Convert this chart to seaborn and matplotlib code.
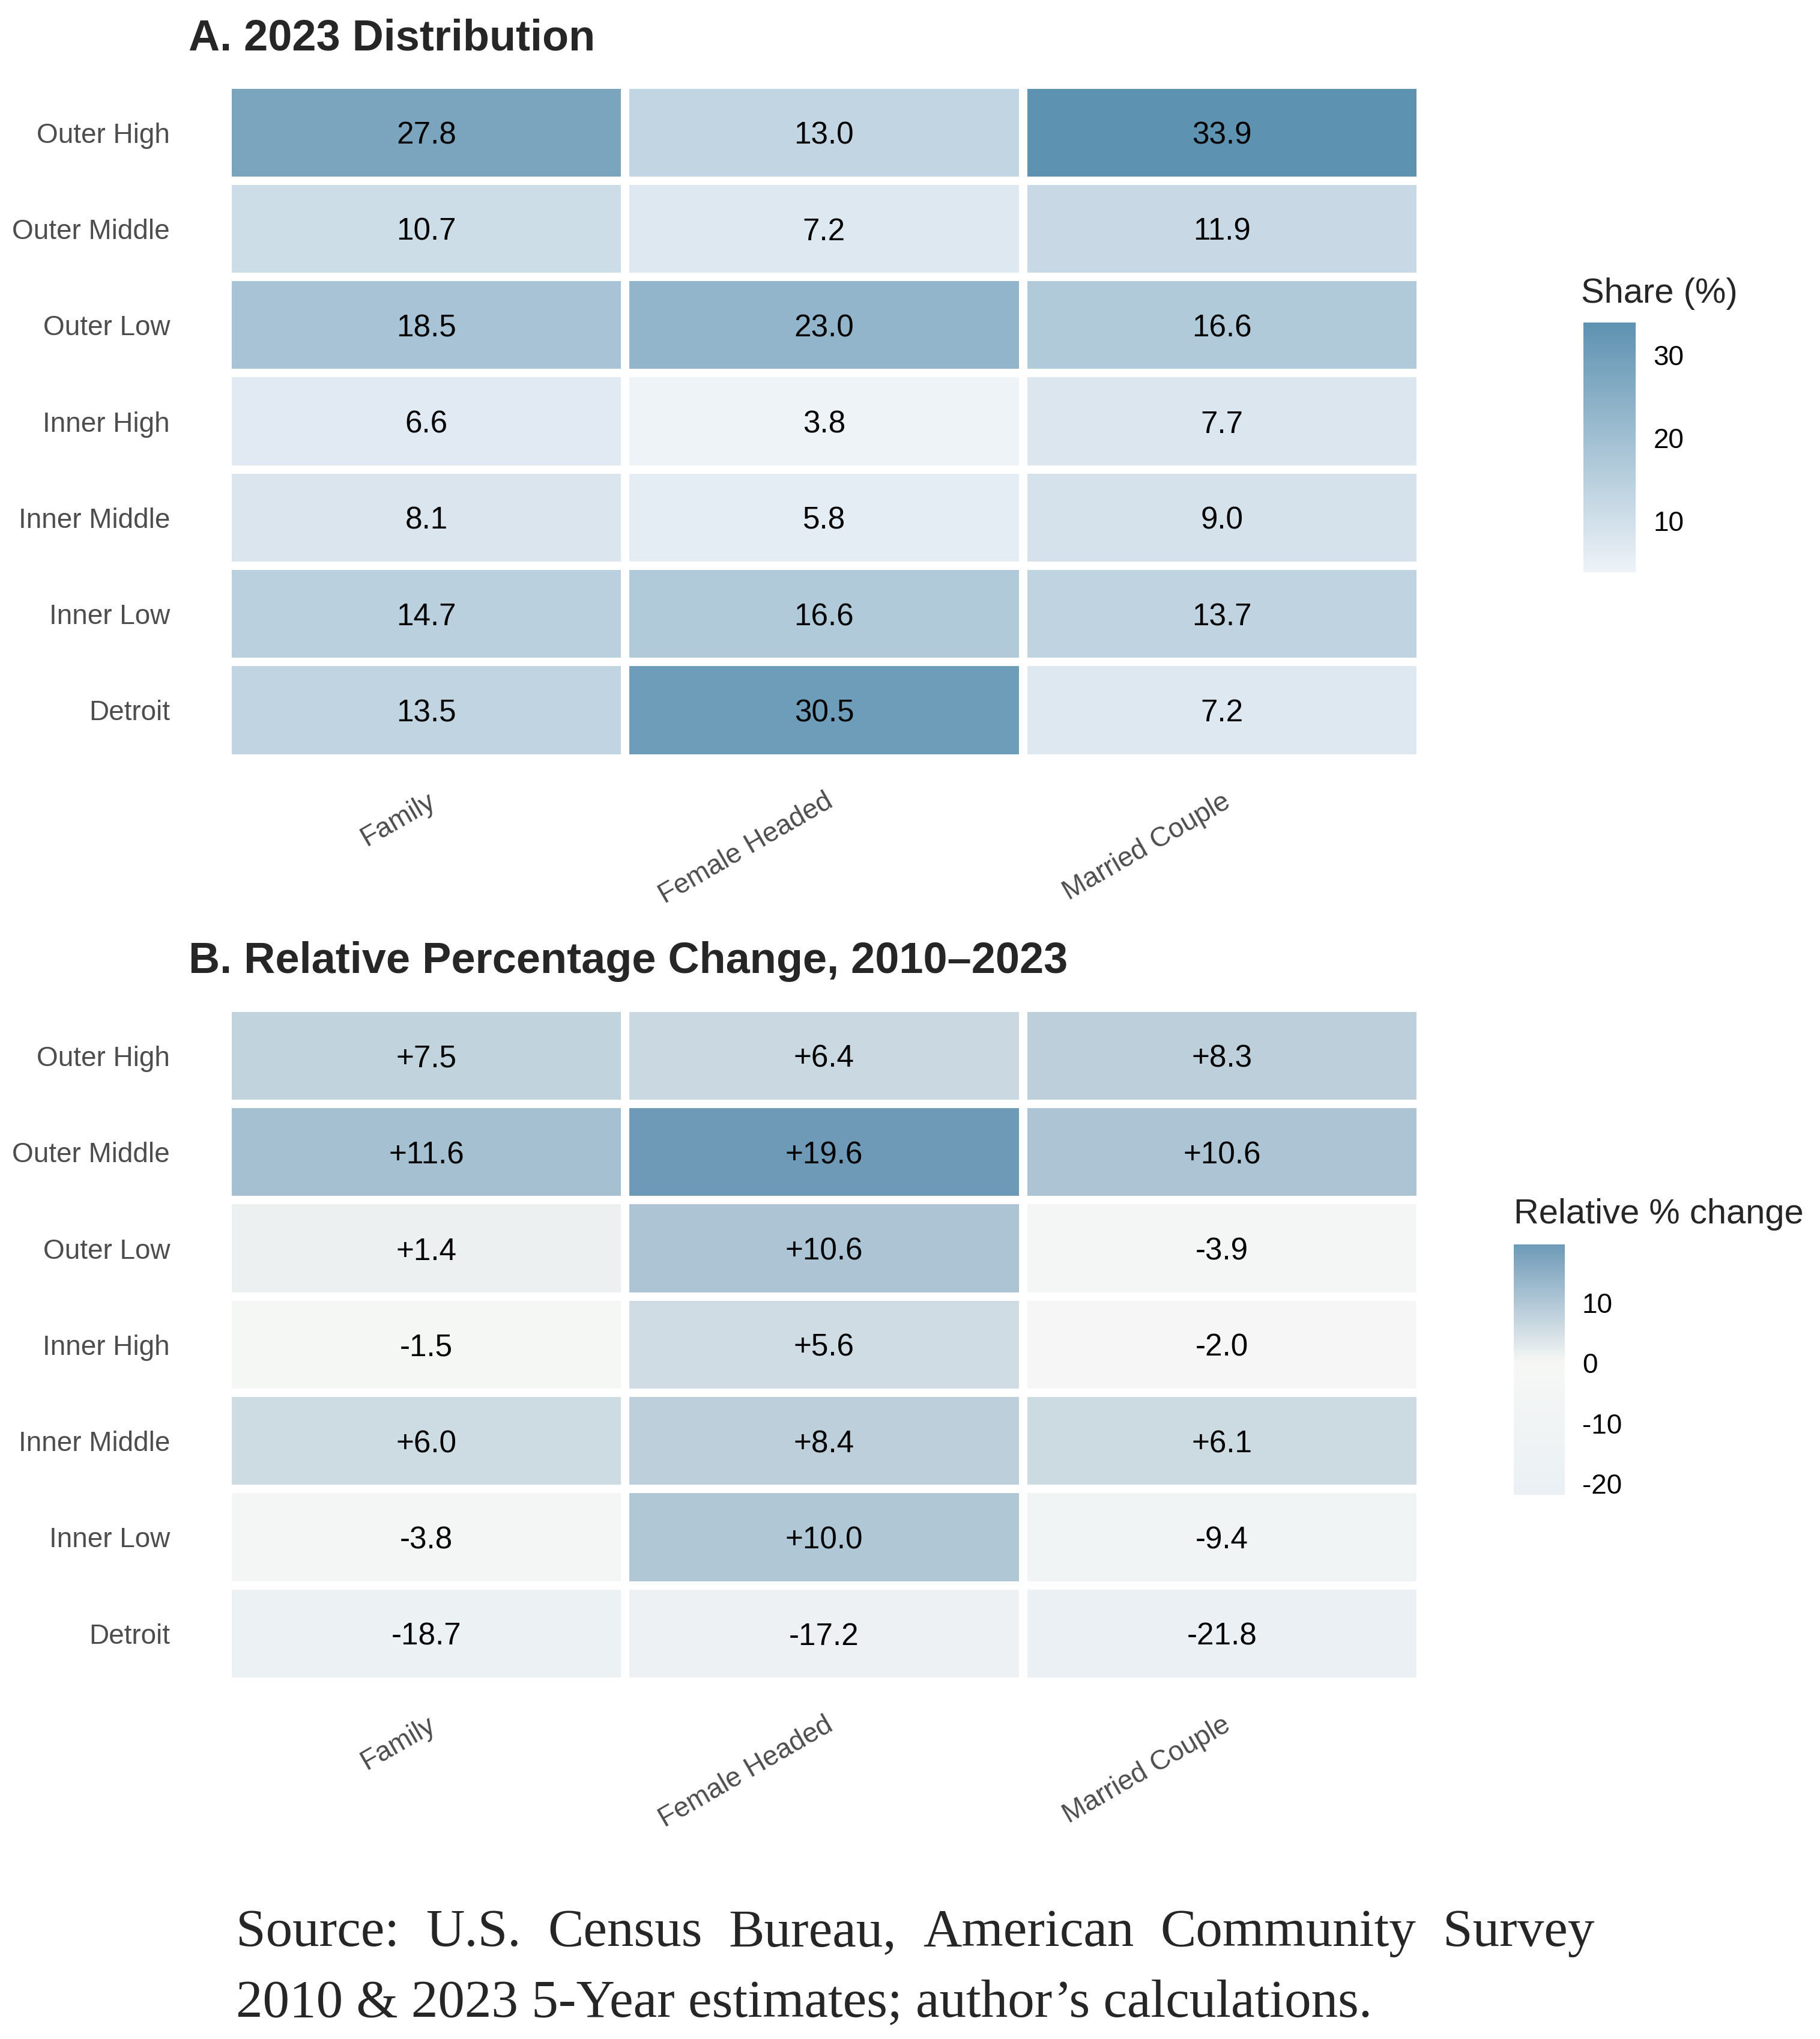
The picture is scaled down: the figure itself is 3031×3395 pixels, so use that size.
import numpy as np
import pandas as pd
import matplotlib
matplotlib.use("Agg")
import matplotlib.pyplot as plt
import seaborn as sns
from matplotlib.colors import LinearSegmentedColormap

sns.set_theme(style="white")
plt.rcParams["font.family"] = ["Liberation Sans", "DejaVu Sans"]
plt.rcParams["axes.unicode_minus"] = False

# data
regions = ["Outer High", "Outer Middle", "Outer Low", "Inner High",
           "Inner Middle", "Inner Low", "Detroit"]
household_types = ["Family", "Female Headed", "Married Couple"]

share_family = [27.8, 10.7, 18.5, 6.6, 8.1, 14.7, 13.5]
share_female = [13.0, 7.2, 23.0, 3.8, 5.8, 16.6, 30.5]
share_married = [33.9, 11.9, 16.6, 7.7, 9.0, 13.7, 7.2]

change_family = [7.5, 11.6, 1.4, -1.5, 6.0, -3.8, -18.7]
change_female = [6.4, 19.6, 10.6, 5.6, 8.4, 10.0, -17.2]
change_married = [8.3, 10.6, -3.9, -2.0, 6.1, -9.4, -21.8]

source_line1 = "Source: U.S. Census Bureau, American Community Survey"
source_line2 = "2010 & 2023 5-Year estimates; author\u2019s calculations."

share = pd.DataFrame({"Family": share_family, "Female Headed": share_female,
                      "Married Couple": share_married}, index=regions)
change = pd.DataFrame({"Family": change_family, "Female Headed": change_female,
                       "Married Couple": change_married}, index=regions)

# colour scales
cmap_share = LinearSegmentedColormap.from_list("share", ["#eef3f8", "#5e92b1"])
lo, hi = change.values.min(), change.values.max()
mid_pos = (0 - lo) / (hi - lo)
cmap_change = LinearSegmentedColormap.from_list(
    "change", [(0, "#eaf0f4"), (mid_pos, "#f6f7f5"), (1, "#6e9ab8")])

fig = plt.figure(figsize=(3031 / 300, 3395 / 300), dpi=300)
ax_a = fig.add_axes([0.1250, 0.6281, 0.6556, 0.3305])
cax_a = fig.add_axes([0.8700, 0.7193, 0.0288, 0.1225])
ax_b = fig.add_axes([0.1250, 0.1753, 0.6556, 0.3305])
cax_b = fig.add_axes([0.8317, 0.2670, 0.0280, 0.1227])

annot_kw = dict(fontsize=12.3, color="black", va="center_baseline")

sns.heatmap(share, ax=ax_a, cmap=cmap_share, cbar_ax=cax_a,
            vmin=share.values.min(), vmax=share.values.max(),
            annot=share.map(lambda v: f"{v:.1f}").values, fmt="",
            annot_kws=annot_kw, linewidths=2.9, linecolor="white")

sns.heatmap(change, ax=ax_b, cmap=cmap_change, cbar_ax=cax_b,
            vmin=lo, vmax=hi,
            annot=change.map(lambda v: f"{v:+.1f}").values, fmt="",
            annot_kws=annot_kw, linewidths=2.9, linecolor="white")

for ax, title, ybase in [(ax_a, "A. 2023 Distribution", 0.9755),
                         (ax_b, "B. Relative Percentage Change, 2010\u20132023", 0.5228)]:
    ax.set_xlabel("")
    ax.set_ylabel("")
    ax.tick_params(axis="both", length=0)
    ax.tick_params(axis="y", pad=23, labelsize=11, labelcolor="#4d4d4d")
    ax.tick_params(axis="x", pad=12, labelsize=11, labelcolor="#4d4d4d")
    plt.setp(ax.get_yticklabels(), rotation=0, ha="right", va="center_baseline")
    plt.setp(ax.get_xticklabels(), rotation=30, ha="right", va="top",
             rotation_mode="anchor")
    fig.text(0.1036, ybase, title, fontsize=17.3, fontweight="bold",
             ha="left", va="baseline")

for ax, cax, ticks, label, lx, ly in [
        (ax_a, cax_a, [10, 20, 30], "Share (%)", 0.8687, 0.8515),
        (ax_b, cax_b, [-20, -10, 0, 10], "Relative % change", 0.8317, 0.4000)]:
    cbar = ax.collections[0].colorbar
    cbar.outline.set_visible(False)
    cbar.set_ticks(ticks)
    cax.tick_params(which="both", left=True, right=True, direction="in",
                    color="white", length=4.3, width=0.8, pad=7,
                    labelsize=11, labelcolor="black")
    fig.text(lx, ly, label, fontsize=13.9, ha="left", va="baseline")

# source note, first line justified
src_kw = dict(fontsize=21.4, family=["Liberation Serif", "DejaVu Serif"], va="baseline")
x_left, x_right = 0.1297, 0.876
words = source_line1.split(" ")
fig.canvas.draw()
renderer = fig.canvas.get_renderer()
objs = [fig.text(0, 0.0457, w, **src_kw) for w in words]
widths = [o.get_window_extent(renderer).width / fig.bbox.width for o in objs]
gap = (x_right - x_left - sum(widths)) / (len(words) - 1)
x = x_left
for o, w in zip(objs, widths):
    o.set_x(x)
    x += w + gap
fig.text(x_left, 0.0112, source_line2, **src_kw)

fig.savefig("out.png", dpi=300, facecolor="white")
